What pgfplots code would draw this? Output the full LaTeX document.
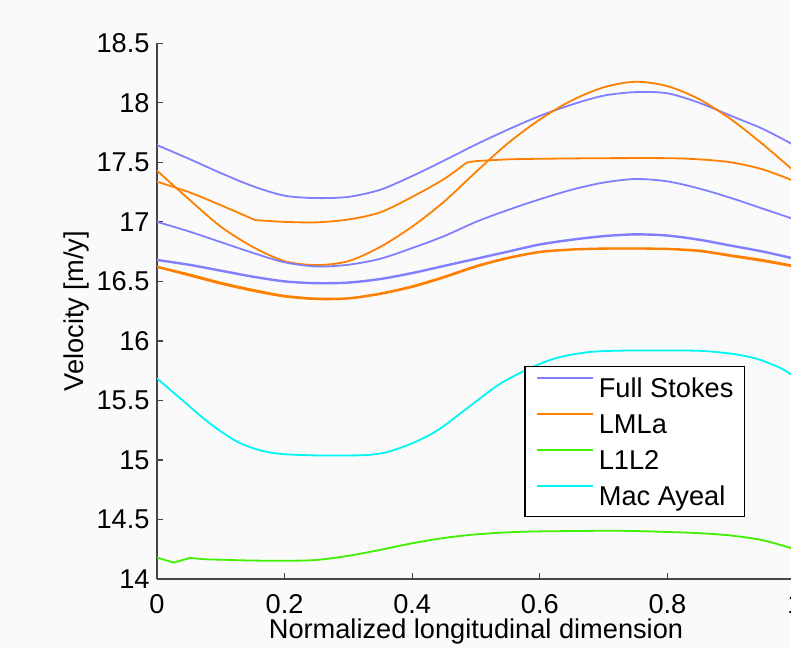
\documentclass[border=0pt]{standalone}
\usepackage{pgfplots}
\pgfplotsset{compat=1.18}
\usepackage{fontspec}
\setmainfont{Liberation Sans}
\definecolor{fsblue}{RGB}{128,128,255}
\definecolor{lmorange}{RGB}{255,128,0}
\definecolor{llgreen}{RGB}{64,240,0}
\definecolor{macyan}{RGB}{0,245,245}
\definecolor{bg}{RGB}{250,250,250}
\definecolor{axgray}{RGB}{70,70,70}
\newcommand{\fs}{\fontsize{13.6}{16.3}\selectfont}
\begin{document}
\fs
\begin{tikzpicture}
\fill[bg] (-78.5pt,-34.5pt) rectangle (317pt,289.5pt);
\useasboundingbox (-78.5pt,-34.5pt) rectangle (317pt,289.5pt);
\begin{axis}[
  at={(0,0)}, anchor=south west,
  scale only axis, width=319pt, height=267.85pt,
  xmin=0, xmax=1, ymin=14, ymax=18.5,
  axis x line*=bottom, axis y line*=left,
  axis line style={axgray, line width=0.6pt},
  tick align=inside, major tick length=3pt,
  tick style={axgray, line width=0.6pt},
  xtick={0,0.2,0.4,0.6,0.8,1},
  ytick={14,14.5,15,15.5,16,16.5,17,17.5,18,18.5},
  /pgf/number format/assume math mode=true,
  ticklabel style={font=\fs},
  xticklabel style={yshift=-3.2pt},
  yticklabel style={xshift=1pt},
  xlabel={Normalized longitudinal dimension},
  ylabel={Velocity [m/y]},
  label style={font=\fs},
  xlabel style={at={(axis description cs:0.5,0)}, anchor=base, yshift=-29.5pt},
  ylabel style={at={(axis description cs:0,0.5)}, anchor=base, yshift=36.5pt},
  legend style={at={(0.9216,0.1157)}, anchor=south east, draw=black, fill=white,
    line width=0.6pt, font=\fs,
    inner xsep=5.5pt, inner ysep=3.4pt, row sep=3.8pt, column sep=2.5pt,
    nodes={inner xsep=0pt, inner ysep=0pt, text height=12pt, text depth=2.2pt}},
  legend cell align=left,
  legend image code/.code={\draw[#1] (0pt,4.9pt) -- (28pt,4.9pt);},
  every axis plot/.append style={line width=0.9pt},
]
% Full Stokes A
\addplot[fsblue, smooth] coordinates {
(0,17.645) (0.05,17.53) (0.1,17.41) (0.15,17.30) (0.2,17.22) (0.25,17.20) (0.3,17.21)
(0.35,17.27) (0.4,17.385) (0.45,17.515) (0.5,17.65) (0.55,17.775) (0.6,17.89) (0.65,17.985)
(0.7,18.06) (0.75,18.09) (0.8,18.08) (0.85,18.00) (0.9,17.89) (0.95,17.78) (1.0,17.64)};
\addlegendentry{Full Stokes}
% LMLa D
\addplot[lmorange, smooth] coordinates {
(0,17.43) (0.05,17.19) (0.1,16.96) (0.15,16.79) (0.2,16.67) (0.25,16.637) (0.3,16.67)
(0.35,16.79) (0.4,16.96) (0.45,17.17) (0.5,17.42) (0.55,17.66) (0.6,17.86) (0.65,18.02)
(0.7,18.13) (0.75,18.177) (0.8,18.14) (0.85,18.03) (0.9,17.86) (0.95,17.65) (1.0,17.42)};
\addlegendentry{LMLa}
% L1L2
\addplot[llgreen, smooth, tension=0.5] coordinates {
(0.052,14.177) (0.075,14.166) (0.1,14.162) (0.15,14.155) (0.2,14.153)
(0.25,14.16) (0.3,14.195) (0.35,14.245) (0.4,14.30) (0.45,14.345) (0.5,14.375) (0.55,14.392)
(0.6,14.40) (0.7,14.405) (0.75,14.403) (0.8,14.395) (0.85,14.385) (0.9,14.365) (0.95,14.325) (1.0,14.25)};
\addlegendentry{L1L2}
% Mac Ayeal
\addplot[macyan, smooth] coordinates {
(0,15.685) (0.025,15.57) (0.05,15.455) (0.075,15.34) (0.1,15.24) (0.125,15.155) (0.15,15.10)
(0.175,15.065) (0.2,15.048) (0.25,15.038) (0.3,15.038) (0.33,15.042) (0.36,15.065) (0.4,15.14)
(0.44,15.25) (0.49,15.45) (0.535,15.63) (0.58,15.76) (0.625,15.855) (0.675,15.905) (0.725,15.918)
(0.8,15.92) (0.85,15.917) (0.88,15.905) (0.91,15.885) (0.94,15.85) (0.97,15.79) (0.985,15.75) (1.0,15.695)};
\addlegendentry{Mac Ayeal}
% L1L2 start
\addplot[llgreen, forget plot] coordinates {(0,14.18) (0.026,14.138) (0.052,14.177)};
% Full Stokes B
\addplot[fsblue, smooth, forget plot] coordinates {
(0,17.00) (0.05,16.92) (0.1,16.83) (0.15,16.74) (0.2,16.66) (0.25,16.625) (0.3,16.64)
(0.35,16.69) (0.4,16.78) (0.45,16.88) (0.5,17.00) (0.55,17.10) (0.6,17.19) (0.65,17.27)
(0.7,17.33) (0.75,17.36) (0.8,17.34) (0.85,17.28) (0.9,17.20) (0.95,17.11) (1.0,17.02)};
% Full Stokes C
\addplot[fsblue, smooth, forget plot, line width=1.2pt] coordinates {
(0,16.68) (0.05,16.64) (0.1,16.59) (0.15,16.54) (0.2,16.50) (0.25,16.485) (0.3,16.49)
(0.35,16.52) (0.4,16.57) (0.45,16.63) (0.5,16.69) (0.55,16.75) (0.6,16.81) (0.65,16.85)
(0.7,16.88) (0.75,16.895) (0.8,16.885) (0.85,16.85) (0.9,16.80) (0.95,16.75) (1.0,16.69)};
% LMLa E (three pieces, kinks at 0.154 and 0.485)
\addplot[lmorange, smooth, forget plot] coordinates {
(0,17.337) (0.05,17.25) (0.1,17.14) (0.154,17.015)};
\addplot[lmorange, smooth, forget plot] coordinates {
(0.154,17.015) (0.2,17.00) (0.25,16.996) (0.3,17.02)
(0.35,17.08) (0.4,17.21) (0.45,17.36) (0.485,17.497)};
\addplot[lmorange, smooth, forget plot] coordinates {
(0.485,17.497) (0.5,17.51) (0.55,17.525) (0.6,17.53)
(0.7,17.535) (0.8,17.535) (0.85,17.525) (0.9,17.50) (0.95,17.44) (1.0,17.34)};
% LMLa F (two nearly equal lines)
\addplot[lmorange, smooth, forget plot] coordinates {
(0,16.625) (0.05,16.56) (0.1,16.49) (0.15,16.43) (0.2,16.38) (0.25,16.357) (0.3,16.36)
(0.35,16.40) (0.4,16.46) (0.45,16.54) (0.5,16.63) (0.55,16.70) (0.6,16.75) (0.65,16.77)
(0.7,16.778) (0.75,16.778) (0.8,16.775) (0.85,16.76) (0.9,16.72) (0.95,16.68) (1.0,16.63)};
\addplot[lmorange, smooth, forget plot] coordinates {
(0,16.62) (0.05,16.55) (0.1,16.48) (0.15,16.42) (0.2,16.372) (0.25,16.35) (0.3,16.355)
(0.35,16.393) (0.4,16.452) (0.45,16.532) (0.5,16.622) (0.55,16.693) (0.6,16.744) (0.65,16.765)
(0.7,16.773) (0.75,16.774) (0.8,16.77) (0.85,16.753) (0.9,16.712) (0.95,16.67) (1.0,16.622)};
\end{axis}
\end{tikzpicture}
\end{document}
